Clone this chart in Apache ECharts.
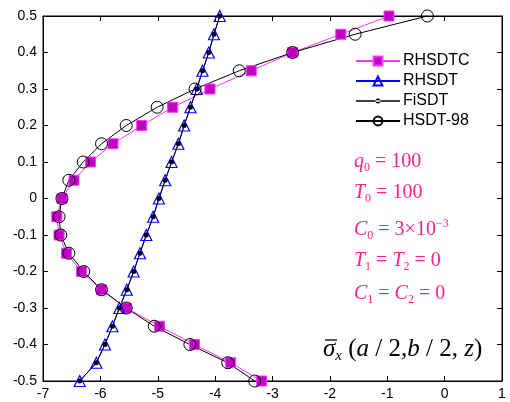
<!DOCTYPE html>
<html>
<head>
<meta charset="utf-8">
<script src="https://cdn.jsdelivr.net/npm/echarts@6/dist/echarts.min.js"></script>
<style>
  html, body { margin: 0; padding: 0; background: #fff; }
  #chart { width: 510px; height: 402px; }
</style>
</head>
<body>
<div id="chart"></div>
<script>
// thickness coordinate z (top to bottom)
const zValues = [0.5, 0.45, 0.4, 0.35, 0.3, 0.25, 0.2, 0.15, 0.1, 0.05, 0,
  -0.05, -0.1, -0.15, -0.2, -0.25, -0.3, -0.35, -0.4, -0.45, -0.5]

const rhsdtc = [-0.97, -1.81, -2.65, -3.37, -4.09, -4.74, -5.28, -5.78, -6.17, -6.46, -6.67,
  -6.76, -6.72, -6.59, -6.33, -5.98, -5.55, -4.97, -4.36, -3.73, -3.19]
const rhsdt = [-3.92, -4.02, -4.11, -4.22, -4.32, -4.43, -4.54, -4.64, -4.76, -4.87, -4.98,
  -5.08, -5.20, -5.31, -5.42, -5.54, -5.67, -5.79, -5.92, -6.07, -6.36]
const fisdt = [-3.92, -4.02, -4.11, -4.22, -4.32, -4.43, -4.54, -4.64, -4.76, -4.87, -4.98,
  -5.08, -5.20, -5.31, -5.42, -5.54, -5.67, -5.79, -5.92, -6.07, -6.36]
const hsdt98 = [-0.30, -1.56, -2.65, -3.58, -4.35, -5.01, -5.55, -5.98, -6.30, -6.55, -6.67,
  -6.72, -6.69, -6.55, -6.29, -5.98, -5.55, -5.06, -4.44, -3.78, -3.31]

const pair = (xs) => xs.map((x, i) => [x, zValues[i]])

const chart = echarts.init(document.getElementById('chart'))

const pink = '#ff1f8f'
const axisFont = { fontFamily: 'Liberation Sans', fontSize: 14, color: '#000' }
const serif = 'Liberation Serif'

// line with a small dot, so the legend dot stays small like the plot marker
const dotIcon = 'path://M0,0L0.01,0L0.01,0.01Z M43.99,10.99L44,10.99L44,11Z ' +
  'M0,4.8L44,4.8L44,6.2L0,6.2Z M19.5,5.5A2.5,2.5 0 1,0 24.5,5.5A2.5,2.5 0 1,0 19.5,5.5Z'

const baseSeries = {
  type: 'line',
  animation: false,
  silent: true,
  emphasis: { disabled: true },
  clip: false,
}

const note = (size, color) => ({
  i: { fontFamily: serif, fontStyle: 'italic', fontSize: size, fill: color, lineHeight: size + 4 },
  s: { fontFamily: serif, fontSize: Math.round(size * 0.6), fill: color, verticalAlign: 'bottom', lineHeight: 12 },
  si: { fontFamily: serif, fontStyle: 'italic', fontSize: Math.round(size * 0.6), fill: color, verticalAlign: 'bottom', lineHeight: 12 },
  n: { fontFamily: serif, fontSize: size, fill: color, lineHeight: size + 4 },
  p: { fontFamily: serif, fontSize: Math.round(size * 0.62), fill: color, verticalAlign: 'top', lineHeight: 13 },
})

const option = {
  backgroundColor: '#fff',
  animation: false,
  grid: { left: 43, right: 8, top: 16, bottom: 21, show: true, borderColor: '#000', borderWidth: 1 },
  xAxis: [{
    type: 'value', min: -7, max: 1, interval: 1,
    axisLine: { show: true, onZero: false, lineStyle: { color: '#000' } },
    axisTick: { inside: true, length: 5, lineStyle: { color: '#000' } },
    axisLabel: { ...axisFont, margin: 6 },
    splitLine: { show: false },
  }, {
    type: 'value', position: 'top', min: -7, max: 1, interval: 1,
    axisLine: { show: true, onZero: false, lineStyle: { color: '#000' } },
    axisTick: { inside: true, length: 5, lineStyle: { color: '#000' } },
    axisLabel: { show: false },
    splitLine: { show: false },
  }],
  yAxis: [{
    type: 'value', min: -0.5, max: 0.5, interval: 0.1,
    axisLine: { show: true, onZero: false, lineStyle: { color: '#000' } },
    axisTick: { inside: true, length: 5, lineStyle: { color: '#000' } },
    axisLabel: { ...axisFont, margin: 6, formatter: (v) => String(+v.toFixed(1)) },
    splitLine: { show: false },
  }, {
    type: 'value', position: 'right', min: -0.5, max: 0.5, interval: 0.1,
    axisLine: { show: true, onZero: false, lineStyle: { color: '#000' } },
    axisTick: { inside: true, length: 5, lineStyle: { color: '#000' } },
    axisLabel: { show: false },
    splitLine: { show: false },
  }],
  legend: {
    left: 350, top: 48, orient: 'vertical',
    itemWidth: 44, itemHeight: 11, itemGap: 4,
    textStyle: { fontFamily: 'Liberation Sans', fontSize: 16, color: '#000', padding: [0, 0, 0, -2] },
    selectedMode: false,
    data: ['RHSDTC', 'RHSDT', { name: 'FiSDT', icon: dotIcon }, 'HSDT-98'],
  },
  series: [{
    ...baseSeries,
    name: 'RHSDTC',
    data: pair(rhsdtc),
    symbol: 'rect', symbolSize: 10,
    lineStyle: { color: '#ff33ff', width: 1 },
    itemStyle: { color: '#c000c0', borderColor: '#ff33ff', borderWidth: 1 },
  }, {
    ...baseSeries,
    name: 'RHSDT',
    data: pair(rhsdt),
    symbol: 'triangle', symbolSize: 11,
    lineStyle: { color: '#0000ff', width: 1 },
    itemStyle: { color: 'rgba(255,255,255,0)', borderColor: '#0000ff', borderWidth: 1.2 },
  }, {
    ...baseSeries,
    name: 'FiSDT',
    data: pair(fisdt),
    symbol: 'circle', symbolSize: 5,
    lineStyle: { color: '#000', width: 1 },
    itemStyle: { color: '#000' },
  }, {
    ...baseSeries,
    name: 'HSDT-98',
    data: pair(hsdt98),
    symbol: 'circle', symbolSize: 12,
    lineStyle: { color: '#000', width: 1 },
    itemStyle: { color: 'rgba(255,255,255,0)', borderColor: '#000', borderWidth: 1 },
  }],
  graphic: [{
    type: 'text', left: 354, top: 152,
    style: { text: '{i|q}{s|0}{n| = 100}', rich: note(20, pink) },
  }, {
    type: 'text', left: 354, top: 183,
    style: { text: '{i|T}{s|0}{n| = 100}', rich: note(20, pink) },
  }, {
    type: 'text', left: 354, top: 218,
    style: { text: '{i|C}{s|0}{n| = 3×10}{p|−3}', rich: note(20, pink) },
  }, {
    type: 'text', left: 354, top: 251,
    style: { text: '{i|T}{s|1}{n| = }{i|T}{s|2}{n| = 0}', rich: note(20, pink) },
  }, {
    type: 'text', left: 354, top: 284,
    style: { text: '{i|C}{s|1}{n| = }{i|C}{s|2}{n| = 0}', rich: note(20, pink) },
  }, {
    type: 'text', left: 323, top: 337,
    style: { text: '{i|σ}{si|x}{n| (}{i|a}{n| / 2,}{i|b}{n| / 2, }{i|z}{n|)}', rich: note(25, '#000') },
  }, {
    type: 'line',
    shape: { x1: 325, y1: 340, x2: 337, y2: 340 },
    style: { stroke: '#000', lineWidth: 1.3 },
  }],
}

chart.setOption(option)
</script>
</body>
</html>
